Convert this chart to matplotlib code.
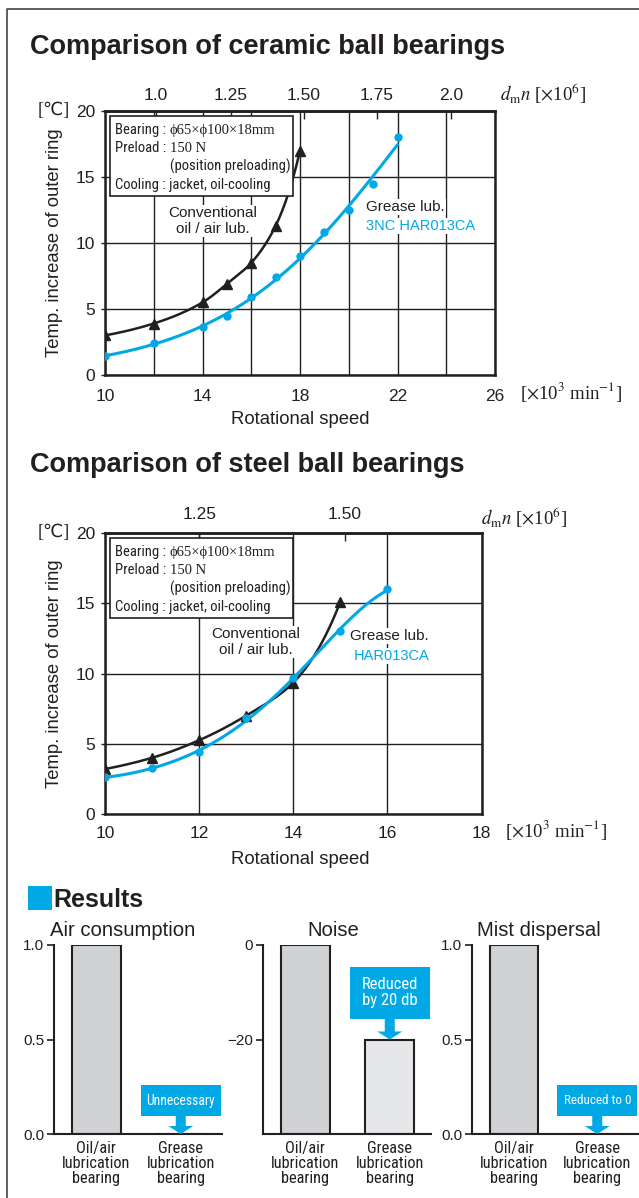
import numpy as np
import matplotlib
matplotlib.use("Agg")
import matplotlib.pyplot as plt
from matplotlib import font_manager
from matplotlib.lines import Line2D
from matplotlib.patches import Rectangle, Polygon
from matplotlib.transforms import IdentityTransform

# ---------------- data ----------------
ceramic_speed_conv = [10, 12, 14, 15, 16, 17, 18]
ceramic_temp_conv = [3.0, 3.9, 5.5, 6.9, 8.5, 11.3, 17.0]
ceramic_speed_grease = [10, 12, 14, 15, 16, 17, 18, 19, 20, 21, 22]
ceramic_temp_grease = [1.45, 2.4, 3.6, 4.5, 5.9, 7.45, 9.05, 10.8, 12.5, 14.45, 18.0]
ceramic_xticks = [10, 14, 18, 22, 26]
ceramic_dmn_pos = [12.1, 15.15, 18.15, 21.15, 24.2]
ceramic_dmn_labels = ["1.0", "1.25", "1.50", "1.75", "2.0"]

steel_speed_conv = [10, 11, 12, 13, 14, 15]
steel_temp_conv = [3.2, 4.0, 5.25, 7.0, 9.35, 15.1]
steel_speed_grease = [10, 11, 12, 13, 14, 15, 16]
steel_temp_grease = [2.6, 3.3, 4.4, 6.8, 9.7, 13.0, 16.0]
steel_xticks = [10, 12, 14, 16, 18]
steel_dmn_pos = [12.0, 15.1]
steel_dmn_labels = ["1.25", "1.50"]

temp_yticks = [0, 5, 10, 15, 20]

bar_categories = ["Oil/air\nlubrication\nbearing", "Grease\nlubrication\nbearing"]
air_values = [1.0, 0.0]
noise_values = [0, -20]
mist_values = [1.0, 0.0]

# ---------------- style ----------------
W, H = 639, 1198
BLUE = "#00a9e6"
INK = "#231f20"
BAR_GREY = "#d1d2d4"
BAR_LIGHT = "#e6e7e8"

names = {f.name for f in font_manager.fontManager.ttflist}
NARROW = next((n for n in ["Liberation Sans Narrow", "Roboto Condensed",
                           "Open Sans Condensed"] if n in names), "Liberation Sans")
SERIF = ["Liberation Serif", "DejaVu Serif", "DejaVu Sans"]

plt.rcParams["font.family"] = ["Liberation Sans", "DejaVu Sans"]
plt.rcParams["mathtext.fontset"] = "stix"
plt.rcParams["text.color"] = INK
plt.rcParams["axes.edgecolor"] = INK
plt.rcParams["xtick.color"] = INK
plt.rcParams["ytick.color"] = INK

fig = plt.figure(figsize=(W / 100, H / 100), dpi=100)
fig.patch.set_facecolor("white")


def fx(x):
    return x / W


def fy(y):
    return 1 - y / H


def axes_px(left, top, right, bottom):
    return fig.add_axes([fx(left), fy(bottom), (right - left) / W, (bottom - top) / H])


# page frame
fig.add_artist(Line2D([fx(7), fx(7), 1.0], [0.0, fy(9), fy(9)],
                      transform=fig.transFigure, color="#444444", lw=1.2))


def log_fit(xs, ys, deg=3):
    """Smooth trend curve through the measured points (polynomial in log space)."""
    xs = np.asarray(xs, float)
    ys = np.asarray(ys, float)
    coef = np.polyfit(xs, np.log(ys), deg)
    xx = np.linspace(xs[0], xs[-1], 300)
    return xx, np.exp(np.polyval(coef, xx))


def log_pchip(xs, ys):
    """Monotone cubic (Fritsch-Carlson) curve through the points, in log space."""
    x = np.asarray(xs, float)
    y = np.log(np.asarray(ys, float))
    h = np.diff(x)
    d = np.diff(y) / h
    m = np.zeros_like(y)
    for k in range(1, len(x) - 1):
        if d[k - 1] * d[k] > 0:
            w1 = 2 * h[k] + h[k - 1]
            w2 = h[k] + 2 * h[k - 1]
            m[k] = (w1 + w2) / (w1 / d[k - 1] + w2 / d[k])
    m[0] = ((2 * h[0] + h[1]) * d[0] - h[0] * d[1]) / (h[0] + h[1])
    m[-1] = ((2 * h[-1] + h[-2]) * d[-1] - h[-1] * d[-2]) / (h[-1] + h[-2])
    if m[0] * d[0] <= 0:
        m[0] = 0
    if m[-1] * d[-1] <= 0:
        m[-1] = 0
    xx = np.linspace(x[0], x[-1], 400)
    idx = np.clip(np.searchsorted(x, xx) - 1, 0, len(x) - 2)
    t = (xx - x[idx]) / h[idx]
    h00 = 2 * t**3 - 3 * t**2 + 1
    h10 = t**3 - 2 * t**2 + t
    h01 = -2 * t**3 + 3 * t**2
    h11 = t**3 - t**2
    yy = h00 * y[idx] + h10 * h[idx] * m[idx] + h01 * y[idx + 1] + h11 * h[idx] * m[idx + 1]
    return xx, np.exp(yy)


def spec_box(left, top):
    """Test-condition box in the upper left of a temperature chart."""
    fig.add_artist(Rectangle((fx(left), fy(top + 80)), 183 / W, 80 / H,
                             transform=fig.transFigure, facecolor="white",
                             edgecolor=INK, lw=1.2, zorder=5))
    renderer = fig.canvas.get_renderer()
    x0 = left + 5
    lines = [("Bearing : ", "\u03d565\u00d7\u03d5100\u00d718mm", 13),
             ("Preload : ", "150 N", 31)]
    for sans, serif, dy in lines:
        t = fig.text(fx(x0), fy(top + dy + 5), sans, fontsize=10.5, family=NARROW,
                     va="baseline", ha="left", zorder=6)
        bb = t.get_window_extent(renderer)
        fig.text(bb.x1 / W, fy(top + dy + 5), serif, fontsize=10.5,
                 family=SERIF, va="baseline", ha="left", zorder=6)
    fig.text(fx(left + 60), fy(top + 55), "(position preloading)", fontsize=10.5,
             family=NARROW, va="baseline", ha="left", zorder=6)
    fig.text(fx(x0), fy(top + 73), "Cooling : jacket, oil-cooling", fontsize=10.5,
             family=NARROW, va="baseline", ha="left", zorder=6)


def temp_chart(box, xlim, xticks, dmn_pos, dmn_labels, conv, grease,
               bottom_pad, top_pad):
    left, top, right, bottom = box
    ax = axes_px(*box)
    ax.set_xlim(*xlim)
    ax.set_ylim(0, 20)
    ax.set_xticks(xticks)
    ax.set_xticks(np.arange(xlim[0], xlim[1] + 1, 2), minor=True)
    ax.set_yticks(temp_yticks)
    ax.grid(which="both", color=INK, lw=1.0)
    ax.tick_params(axis="x", which="both", length=0, pad=bottom_pad, labelsize=12.5)
    ax.tick_params(axis="y", length=3, width=1.0, direction="out", pad=4, labelsize=12.5)
    for s in ax.spines.values():
        s.set_linewidth(1.8)

    sec = ax.secondary_xaxis("top")
    sec.set_xticks(dmn_pos, dmn_labels)
    sec.tick_params(direction="in", length=6, width=1.0, pad=top_pad, labelsize=12.5)
    sec.spines["top"].set_linewidth(1.8)

    (cx, cy), (gx, gy) = conv, grease
    xx, yy = log_pchip(cx, cy)
    ax.plot(xx, yy, color=INK, lw=1.8, zorder=3, solid_capstyle="round")
    ax.plot(cx, cy, ls="none", marker="^", ms=6.5, color=INK, zorder=4)
    xx, yy = log_fit(gx, gy)
    ax.plot(xx, yy, color=BLUE, lw=2.2, zorder=3, solid_capstyle="round")
    ax.plot(gx, gy, ls="none", marker="o", ms=5, color=BLUE, zorder=4)

    # axis captions
    fig.text(fx(55), fy((top + bottom) / 2), "Temp. increase of outer ring",
             rotation=90, ha="center", va="center", fontsize=13.3)
    fig.text(fx(54), fy(top), "[\u2103]", ha="center", va="center", fontsize=13,
             family=["Liberation Serif", "DejaVu Sans", "Noto Sans CJK JP"])
    fig.text(fx(300), fy(bottom + 45), "Rotational speed", ha="center",
             va="center", fontsize=13.3)
    spec_box(left + 5, top + 5)
    return ax


bbox_white = dict(facecolor="white", edgecolor="none", pad=1.0)

# ---------------- ceramic ball bearings ----------------
fig.text(fx(30), fy(54), "Comparison of ceramic ball bearings", fontsize=19.5,
         fontweight="bold", va="baseline", ha="left")
ax1 = temp_chart((105, 111, 495, 375), (10, 26), ceramic_xticks,
                 ceramic_dmn_pos, ceramic_dmn_labels,
                 (ceramic_speed_conv, ceramic_temp_conv),
                 (ceramic_speed_grease, ceramic_temp_grease),
                 bottom_pad=10, top_pad=6)
fig.text(fx(500), fy(94), r"$d_{\mathrm{m}}n$ [$\times$10$^{6}$]", fontsize=13.5,
         family=SERIF, ha="left", va="center")
fig.text(fx(520), fy(392), r"[$\times$10$^{3}$ min$^{-1}$]", fontsize=13.5,
         family=SERIF, ha="left", va="center")
fig.text(fx(213), fy(221), "Conventional\noil / air lub.", ha="center",
         va="center", fontsize=11, linespacing=1.15, bbox=bbox_white, zorder=6)
fig.text(fx(366), fy(207), "Grease lub.", ha="left", va="center", fontsize=11,
         bbox=bbox_white, zorder=6)
fig.text(fx(366), fy(226), "3NC HAR013CA", ha="left", va="center", fontsize=10.5,
         color=BLUE, bbox=bbox_white, zorder=6)

# ---------------- steel ball bearings ----------------
fig.text(fx(30), fy(472), "Comparison of steel ball bearings", fontsize=19.5,
         fontweight="bold", va="baseline", ha="left")
ax2 = temp_chart((105, 533, 481.5, 814), (10, 18), steel_xticks,
                 steel_dmn_pos, steel_dmn_labels,
                 (steel_speed_conv, steel_temp_conv),
                 (steel_speed_grease, steel_temp_grease),
                 bottom_pad=9, top_pad=8)
fig.text(fx(481), fy(518), r"$d_{\mathrm{m}}n$ [$\times$10$^{6}$]", fontsize=13.5,
         family=SERIF, ha="left", va="center")
fig.text(fx(505), fy(830), r"[$\times$10$^{3}$ min$^{-1}$]", fontsize=13.5,
         family=SERIF, ha="left", va="center")
fig.text(fx(256), fy(642), "Conventional\noil / air lub.", ha="center",
         va="center", fontsize=11, linespacing=1.15, bbox=bbox_white, zorder=6)
fig.text(fx(350), fy(636), "Grease lub.", ha="left", va="center", fontsize=11,
         bbox=bbox_white, zorder=6)
fig.text(fx(354), fy(656), "HAR013CA", ha="left", va="center", fontsize=10.5,
         color=BLUE, bbox=bbox_white, zorder=6)

# ---------------- results ----------------
fig.add_artist(Rectangle((fx(28), fy(910)), 24 / W, 24 / H,
                         transform=fig.transFigure, color=BLUE, lw=0))
fig.text(fx(53), fy(907), "Results", fontsize=18, fontweight="bold",
         va="baseline", ha="left")


def bar_panel(box, values, ylim, yticks, ytick_labels, colors, title, title_x):
    ax = axes_px(*box)
    base = ylim[0]
    ax.bar([0, 1], [v - base for v in values], bottom=base, width=0.58,
           color=colors, edgecolor=INK, lw=1.5, zorder=2)
    ax.set_xlim(-0.5, 1.5)
    ax.set_ylim(*ylim)
    ax.set_yticks(yticks, ytick_labels)
    ax.set_xticks([0, 1], bar_categories, family=NARROW, fontsize=11.8,
                  linespacing=1.02)
    ax.tick_params(axis="x", length=0, pad=5)
    ax.tick_params(axis="y", length=5, width=1.2, direction="out", pad=2,
                   labelsize=11)
    for side in ("top", "right"):
        ax.spines[side].set_visible(False)
    for side in ("left", "bottom"):
        ax.spines[side].set_linewidth(1.5)
    ax.spines["bottom"].set_capstyle("butt")
    fig.text(fx(title_x), fy(930), title, fontsize=14.6, ha="left", va="center")
    return ax


def callout(ax, x, y, label, box_w, box_h, gap, fontsize):
    tx, ty = ax.transData.transform((x, y))
    stem, head_w, head_h = 10, 25, 8
    b0 = ty + gap
    fig.add_artist(Rectangle((tx - box_w / 2, b0), box_w, box_h,
                             transform=IdentityTransform(), color=BLUE, lw=0))
    fig.add_artist(Polygon([(tx - stem / 2, b0), (tx + stem / 2, b0),
                            (tx + stem / 2, ty + head_h), (tx + head_w / 2, ty + head_h),
                            (tx, ty), (tx - head_w / 2, ty + head_h),
                            (tx - stem / 2, ty + head_h)], closed=True,
                           transform=IdentityTransform(), color=BLUE, lw=0))
    fig.text(tx / W, (b0 + box_h / 2) / H, label, ha="center", va="center",
             color="white", fontsize=fontsize, family=NARROW, linespacing=1.15)


axA = bar_panel((54, 945, 223, 1134), air_values, (0, 1.0), [0, 0.5, 1.0],
                ["0.0", "0.5", "1.0"], [BAR_GREY, BAR_GREY], "Air consumption", 50)
axN = bar_panel((263, 945, 432, 1134), noise_values, (-40, 0), [-20, 0],
                ["\u221220", "0"], [BAR_GREY, BAR_LIGHT], "Noise", 307)
axM = bar_panel((472, 945, 639, 1134), mist_values, (0, 1.0), [0, 0.5, 1.0],
                ["0.0", "0.5", "1.0"], [BAR_GREY, BAR_GREY], "Mist dispersal", 477)

callout(axA, 1, air_values[1], "Unnecessary", 80, 31, 18, 9.8)
callout(axN, 1, noise_values[1], "Reduced\nby 20 db", 80, 52, 21, 12)
callout(axM, 1, mist_values[1], "Reduced to 0", 80, 31, 18, 9.4)

fig.savefig("out.png", dpi=100, facecolor="white")
